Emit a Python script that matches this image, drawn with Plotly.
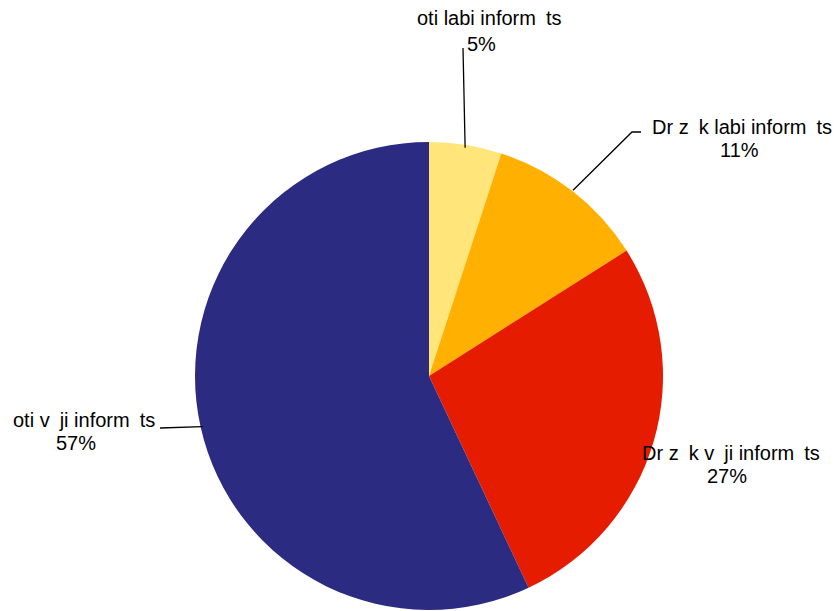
import math
import plotly.graph_objects as go

labels = ["oti labi inform\u2002ts", "Dr\u00a0z\u2002k labi inform\u2002ts",
          "Dr\u00a0z\u2002k v\u2002ji inform\u2002ts", "oti v\u2002ji inform\u2002ts"]
values = [5, 11, 27, 57]
colors = ["#FFE57A", "#FFB000", "#E61C00", "#2C2B82"]

W, H = 836, 611
cx, cy, R = 429, 376, 234  # pixel geometry of the pie inside the figure

dom_x = [(cx - R) / W, (cx + R) / W]
dom_y = [(H - cy - R) / H, (H - cy + R) / H]

fig = go.Figure(go.Pie(
    labels=labels, values=values, sort=False, direction="clockwise", rotation=0,
    marker=dict(colors=colors, line=dict(width=0)),
    textinfo="none", hoverinfo="label+percent", showlegend=False,
    domain=dict(x=dom_x, y=dom_y),
))

def px(x, y):
    """figure pixel -> paper coords"""
    return x / W, 1 - y / H

total = sum(values)
cum = 0
mids = []
for v in values:
    mids.append((cum + v / 2) / total * 2 * math.pi)
    cum += v

def edge(a, r=R):
    return cx + r * math.sin(a), cy - r * math.cos(a)

# (name centre x, name y, percent centre x, percent y) in pixels
label_pos = [(489, 18, 481, 44), (742, 127, 739, 150), (731, 453, 727, 476), (84, 420, 76, 443)]

shapes = []
e0 = edge(mids[0], R - 3)
shapes.append(dict(type="line", xref="paper", yref="paper",
                   x0=px(463, 48)[0], y0=px(463, 48)[1], x1=px(*e0)[0], y1=px(*e0)[1],
                   line=dict(color="black", width=1.3)))
e1 = edge(mids[1], R + 1)
shapes.append(dict(type="path", xref="paper", yref="paper",
                   path="M {} {} L {} {} L {} {}".format(*px(*e1), *px(632, 132), *px(641, 132)),
                   line=dict(color="black", width=1.3)))
e3 = edge(mids[3], R - 2)
shapes.append(dict(type="line", xref="paper", yref="paper",
                   x0=px(160, 428)[0], y0=px(160, 428)[1], x1=px(*e3)[0], y1=px(*e3)[1],
                   line=dict(color="black", width=1.3)))

font = dict(family="Liberation Sans, Arial", size=20, color="black")
annotations = []
for lab, v, (nx, ny, qx, qy) in zip(labels, values, label_pos):
    x1, y1 = px(nx, ny)
    annotations.append(dict(x=x1, y=y1, xref="paper", yref="paper", showarrow=False,
                            text=lab, font=font, xanchor="center", yanchor="middle"))
    x2, y2 = px(qx, qy)
    annotations.append(dict(x=x2, y=y2, xref="paper", yref="paper", showarrow=False,
                            text=f"{round(v / total * 100)}%", font=font,
                            xanchor="center", yanchor="middle"))

fig.update_layout(width=W, height=H, margin=dict(l=0, r=0, t=0, b=0),
                  paper_bgcolor="white", plot_bgcolor="white",
                  shapes=shapes, annotations=annotations)
fig.write_html("out.html", config={"displayModeBar": False},
               post_script="document.body.style.margin='0';document.body.style.overflow='hidden';")
